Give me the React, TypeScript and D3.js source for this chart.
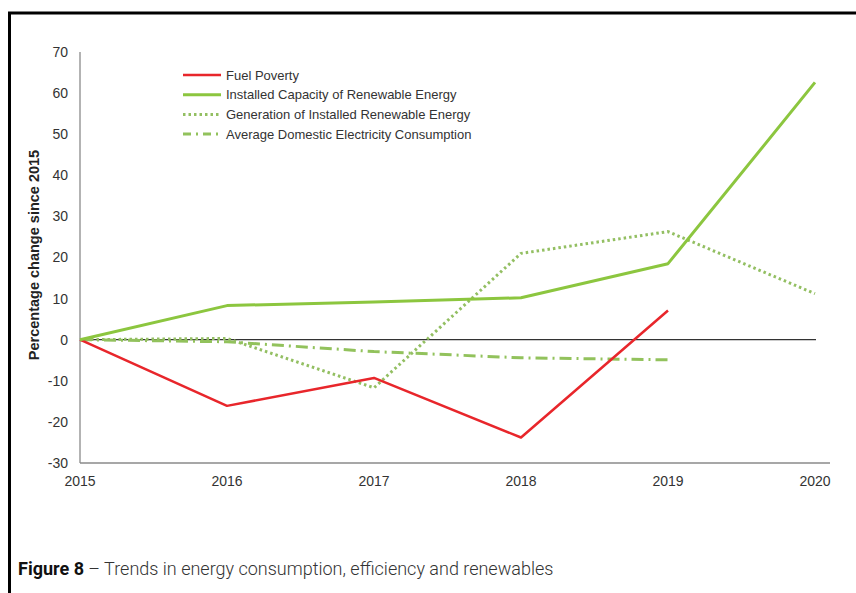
import React, { useRef, useEffect } from 'react';
import * as d3 from 'd3';

const years = [2015, 2016, 2017, 2018, 2019, 2020];
const yTicks = [-30, -20, -10, 0, 10, 20, 30, 40, 50, 60, 70];

const fuelPoverty = [0, -16.1, -9.3, -23.8, 7.1];
const installedCapacity = [0, 8.3, 9.2, 10.2, 18.5, 62.6];
const generation = [0, 0.3, -11.7, 21, 26.3, 11.2];
const avgConsumption = [0, -0.5, -2.9, -4.4, -4.9];

const seriesNames = [
  'Fuel Poverty',
  'Installed Capacity of Renewable Energy',
  'Generation of Installed Renewable Energy',
  'Average Domestic Electricity Consumption',
];

const App = () => {
  const ref = useRef<SVGSVGElement>(null);

  useEffect(() => {
    const svg = d3.select(ref.current);
    svg.selectAll('*').remove();

    const width = 856, height = 593;
    svg.attr('width', width).attr('height', height);

    svg.append('rect').attr('width', width).attr('height', height).attr('fill', '#fff');

    // frame
    svg.append('line').attr('x1', 8).attr('x2', width).attr('y1', 13).attr('y2', 13)
      .attr('stroke', '#000').attr('stroke-width', 3);
    svg.append('line').attr('x1', 9.5).attr('x2', 9.5).attr('y1', 12).attr('y2', height)
      .attr('stroke', '#000').attr('stroke-width', 3);

    const x = d3.scaleLinear().domain([2015, 2020]).range([80, 815]);
    const y = d3.scaleLinear().domain([-30, 70]).range([463, 52]);

    const font = 'Liberation Sans, Arial, sans-serif';

    // axes lines
    svg.append('line').attr('x1', 80).attr('x2', 80).attr('y1', y(70)).attr('y2', y(-30))
      .attr('stroke', '#8a8a8a').attr('stroke-width', 1.3);
    svg.append('line').attr('x1', 80).attr('x2', 830).attr('y1', y(-30)).attr('y2', y(-30))
      .attr('stroke', '#8a8a8a').attr('stroke-width', 1.3);
    svg.append('line').attr('x1', 80).attr('x2', 816).attr('y1', y(0)).attr('y2', y(0))
      .attr('stroke', '#333').attr('stroke-width', 1.3);

    svg.append('g').selectAll('text').data(yTicks).enter().append('text')
      .attr('x', 68).attr('y', (d) => y(d)).attr('dy', '0.35em')
      .attr('text-anchor', 'end').attr('font-family', font).attr('font-size', 14)
      .attr('fill', '#333').text((d) => d);

    svg.append('g').selectAll('text').data(years).enter().append('text')
      .attr('x', (d) => x(d)).attr('y', 481).attr('dy', '0.35em')
      .attr('text-anchor', 'middle').attr('font-family', font).attr('font-size', 14)
      .attr('fill', '#333').text((d) => d);

    svg.append('text')
      .attr('transform', `translate(39,${255}) rotate(-90)`)
      .attr('text-anchor', 'middle').attr('font-family', font).attr('font-size', 14.5)
      .attr('font-weight', 'bold').attr('fill', '#222')
      .text('Percentage change since 2015');

    const line = d3.line<number>().x((d, i) => x(years[i])).y((d) => y(d));

    const styles = [
      { data: fuelPoverty, color: '#e8262b', width: 2.5, dash: null },
      { data: installedCapacity, color: '#8cc63f', width: 3, dash: null },
      { data: generation, color: '#93bf62', width: 3, dash: '2.5,3' },
      { data: avgConsumption, color: '#92c25c', width: 3, dash: '12,5,2,5' },
    ];

    const drawOrder = [3, 2, 0, 1];
    drawOrder.forEach((i) => {
      const s = styles[i];
      svg.append('path').datum(s.data).attr('d', line)
        .attr('fill', 'none').attr('stroke', s.color).attr('stroke-width', s.width)
        .attr('stroke-linejoin', 'round')
        .attr('stroke-dasharray', s.dash);
    });

    // legend
    const legend = svg.append('g');
    seriesNames.forEach((name, i) => {
      const s = styles[i];
      const ly = 75 + i * 19.7;
      legend.append('line').attr('x1', 183).attr('x2', 221).attr('y1', ly).attr('y2', ly)
        .attr('stroke', s.color).attr('stroke-width', s.width)
        .attr('stroke-dasharray', i === 3 ? '8,5,2,5' : s.dash);
      legend.append('text').attr('x', 226).attr('y', ly).attr('dy', '0.35em')
        .attr('font-family', font).attr('font-size', 13).attr('fill', '#333').text(name);
    });

    // caption
    const cap = svg.append('text').attr('x', 18).attr('y', 575)
      .attr('font-family', 'Roboto, sans-serif').attr('font-size', 18).attr('fill', '#111');
    cap.append('tspan').attr('font-weight', 'bold').text('Figure 8');
    cap.append('tspan').attr('font-weight', 300).attr('fill', '#333')
      .text(' \u2013 Trends in energy consumption, efficiency and renewables');
  }, []);

  return <svg ref={ref} style={{ position: 'absolute', left: 0, top: 0 }}></svg>;
};

export default App;
